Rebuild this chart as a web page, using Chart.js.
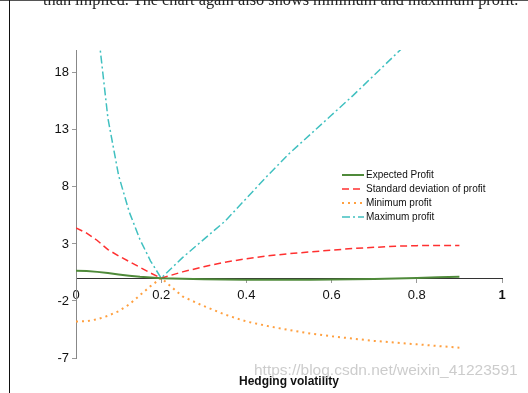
<!DOCTYPE html>
<html>
<head>
<meta charset="utf-8">
<script src="https://cdn.jsdelivr.net/npm/chart.js@4.4.1/dist/chart.umd.min.js"></script>
<style>
  body { margin: 0; background: #fff; overflow: hidden; }
  #wrap { position: relative; width: 528px; height: 393px; }
  #chart { position: absolute; left: 0; top: 0; }
  #topbar { position: absolute; left: 0; top: 0; width: 528px; height: 1px; background: #555; }
  #border { position: absolute; left: 9px; top: 0; width: 1px; height: 393px; background: #111; }
  #text { position: absolute; left: 43px; top: -8px; font: 16.3px "Liberation Serif", serif; line-height: 16px; color: #222; white-space: nowrap; }
  #legend { position: absolute; left: 342px; top: 168px; font: 10px "Liberation Sans", Arial, sans-serif; color: #111; }
  #legend div { height: 14px; line-height: 14px; white-space: nowrap; }
  #legend svg { vertical-align: middle; margin-right: 2px; }
  #mark { position: absolute; left: 254px; top: 361px; font: 15.5px "Liberation Sans", Arial, sans-serif; color: rgba(170,170,170,0.6); white-space: nowrap; }
</style>
</head>
<body>
<div id="wrap">
  <canvas id="chart" width="528" height="393"></canvas>
  <div id="topbar"></div>
  <div id="border"></div>
  <div id="text">than implied. The chart again also shows minimum and maximum profit.</div>
  <div id="legend"></div>
  <div id="mark">https://blog.csdn.net/weixin_41223591</div>
</div>
<script>
var hedgingVol = [0, 0.025, 0.05, 0.075, 0.1, 0.125, 0.15, 0.175, 0.2, 0.25, 0.3, 0.35, 0.4, 0.45, 0.5, 0.55, 0.6, 0.65, 0.7, 0.75, 0.8, 0.85, 0.9];
var expectedProfit = [0.65, 0.62, 0.55, 0.45, 0.33, 0.22, 0.12, 0.05, 0, -0.05, -0.1, -0.12, -0.14, -0.15, -0.15, -0.14, -0.12, -0.1, -0.07, -0.03, 0.02, 0.07, 0.12];
var stdDevProfit = [4.4, 3.95, 3.3, 2.5, 1.95, 1.45, 0.95, 0.45, 0, 0.55, 1.0, 1.4, 1.7, 1.95, 2.15, 2.3, 2.45, 2.6, 2.7, 2.8, 2.85, 2.87, 2.87];
var minProfit = [-3.8, -3.78, -3.6, -3.3, -2.9, -2.3, -1.5, -0.7, 0, -1.6, -2.45, -3.2, -3.8, -4.2, -4.55, -4.85, -5.1, -5.3, -5.5, -5.65, -5.8, -5.95, -6.1];
var maxProfit = [null, null, 22.3, 14.0, 9.0, 5.8, 3.4, 1.5, 0, 1.8, 3.4, 5.0, 7.0, 9.0, 10.9, 12.6, 14.3, 16.0, 17.8, 19.6, 21.4, 23.2, 25.0];
var yTicks = [-7, -2, 3, 8, 13, 18];
var xTicks = [0, 0.2, 0.4, 0.6, 0.8, 1];

function points(values) {
  return hedgingVol.map(function (x, i) { return { x: x, y: values[i] }; });
}

var series = [
  { label: 'Expected Profit', values: expectedProfit, color: '#4f8a3a', width: 2, dash: [] },
  { label: 'Standard deviation of profit', values: stdDevProfit, color: '#ff3030', width: 1.5, dash: [7, 4] },
  { label: 'Minimum profit', values: minProfit, color: '#ffa040', width: 2, dash: [2, 4] },
  { label: 'Maximum profit', values: maxProfit, color: '#40c0c0', width: 1.5, dash: [8, 3, 2, 3] }
];

var font = '"Liberation Sans", Arial, sans-serif';

var grafico = new Chart(document.getElementById('chart'), {
  type: 'line',
  data: {
    datasets: series.map(function (s) {
      return {
        label: s.label,
        data: points(s.values),
        borderColor: s.color,
        borderWidth: s.width,
        borderDash: s.dash,
        pointRadius: 0,
        fill: false,
        tension: 0
      };
    })
  },
  options: {
    responsive: false,
    animation: false,
    layout: { padding: { left: 36, right: 26, top: 50, bottom: 35 } },
    plugins: { legend: { display: false }, tooltip: { enabled: false } },
    scales: {
      x: {
        type: 'linear',
        position: { y: 0 },
        min: 0,
        max: 1,
        afterBuildTicks: function (axis) {
          axis.ticks = xTicks.map(function (v) { return { value: v }; });
        },
        ticks: {
          padding: 5,
          color: '#111',
          font: function (ctx) {
            return { family: font, size: 13, weight: ctx.tick && ctx.tick.value === 1 ? 'bold' : 'normal' };
          },
          callback: function (v) { return String(Number(v.toFixed(1))); }
        },
        grid: { drawOnChartArea: false, tickLength: 4, color: '#999' },
        border: { color: '#333', width: 1 },
        title: {
          display: true,
          text: 'Hedging volatility',
          color: '#111',
          font: { family: font, size: 12, weight: 'bold' },
          padding: { top: 67, bottom: 0 }
        }
      },
      y: {
        position: 'left',
        min: -7,
        max: 20,
        afterBuildTicks: function (axis) {
          axis.ticks = yTicks.map(function (v) { return { value: v }; });
        },
        afterFit: function (axis) { axis.width = 40; },
        ticks: { padding: 3, color: '#111', font: { family: font, size: 13 } },
        grid: { drawOnChartArea: false, tickLength: 4, color: '#999' },
        border: { color: '#888', width: 1 }
      }
    }
  }
});

// legend drawn as html inside the plot area
var legend = document.getElementById('legend');
series.forEach(function (s) {
  var row = document.createElement('div');
  row.innerHTML = '<svg width="22" height="4"><line x1="0" y1="2" x2="22" y2="2" stroke="' + s.color +
    '" stroke-width="' + s.width + '" stroke-dasharray="' + (s.dash.length ? s.dash.join(' ') : 'none') + '"/></svg>' + s.label;
  legend.appendChild(row);
});
</script>
</body>
</html>
